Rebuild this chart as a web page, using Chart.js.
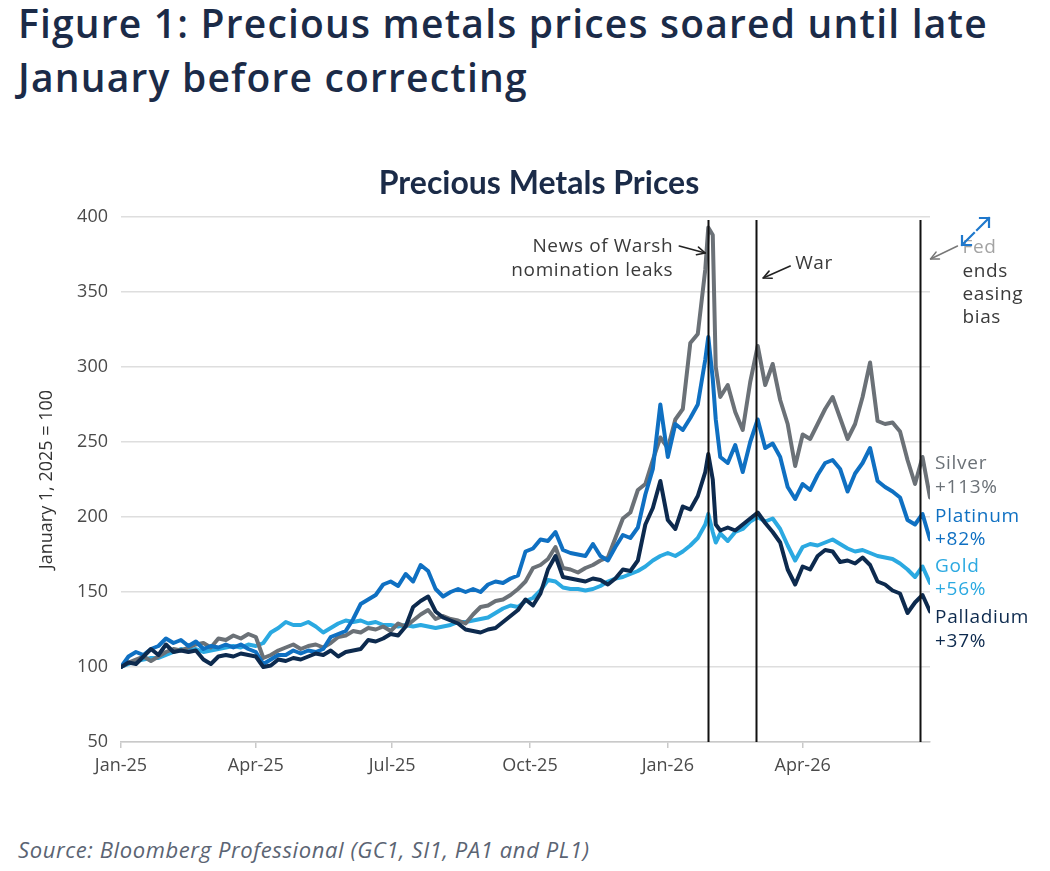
<!DOCTYPE html>
<html><head><meta charset="utf-8">
<script src="https://cdn.jsdelivr.net/npm/chart.js@4.4.1/dist/chart.umd.min.js"></script>
<style>
html,body{margin:0;padding:0;background:#fff;}
body{width:1050px;height:871px;position:relative;overflow:hidden;}
#title{position:absolute;left:18px;top:-4px;font:600 39px/54px 'Open Sans', sans-serif;letter-spacing:1.2px;color:#1b2b48;white-space:nowrap;}
#ctitle{position:absolute;left:0;width:1078px;top:162px;text-align:center;font:700 32px/40px Lato, sans-serif;color:#1b2b48;white-space:nowrap;}
#wrap{position:absolute;left:0;top:150px;width:1050px;height:650px;}
#source{position:absolute;left:18px;top:836px;font:italic 400 22px/26px 'Open Sans', sans-serif;letter-spacing:0.6px;color:#5b6473;white-space:nowrap;}
</style></head>
<body>
<div id="title">Figure 1: Precious metals prices soared until late<br>January before correcting</div>
<div id="wrap"><canvas id="c"></canvas></div>
<div id="ctitle">Precious Metals Prices</div>
<div id="source">Source: Bloomberg Professional (GC1, SI1, PA1 and PL1)</div>
<script>
// Days since 1 Jan 2025
const days = [0,5,10,15,20,25,30,35,40,45,
  50,55,60,65,70,75,80,85,90,95,
  100,105,110,115,120,125,130,135,140,145,
  150,155,160,165,170,175,180,185,190,195,
  200,205,210,215,220,225,230,235,240,245,
  250,255,260,265,270,275,280,285,290,295,
  300,305,310,315,320,325,330,335,340,345,
  350,355,360,365,370,375,380,385,390,392,
  395,397,400,405,410,415,420,425,430,435,
  440,445,450,455,460,465,470,475,480,485,
  490,495,500,505,510,515,520,525,530,535,
  540];

// Index, 1 Jan 2025 = 100
const silver = [100,103,105,107,104,107,110,112,111,113,
  115,116,113,119,118,121,119,122,120,106,
  108,111,113,115,112,114,115,113,116,120,
  121,124,123,126,125,127,124,129,127,131,
  135,138,132,134,132,131,129,135,140,141,
  144,145,148,152,157,166,168,172,180,166,
  165,163,166,168,171,173,186,199,203,218,
  222,238,253,246,265,272,316,322,365,393,
  388,300,280,288,270,258,290,314,288,302,
  278,262,234,255,252,262,272,280,266,252,
  262,280,303,264,262,263,257,238,222,240,
  213];

const platinum = [100,107,110,108,112,114,119,116,118,114,
  117,112,114,113,115,113,115,112,110,102,
  105,108,108,111,109,111,110,112,120,122,
  124,132,142,145,148,155,157,154,162,157,
  168,164,152,147,150,152,150,152,150,155,
  157,156,159,161,177,179,185,184,190,178,
  176,175,174,182,174,171,180,188,186,193,
  215,232,275,240,262,258,266,275,305,320,
  292,265,240,236,248,230,250,265,246,249,
  240,220,212,222,218,228,236,238,232,217,
  229,236,246,224,220,217,213,198,195,202,
  185];

const gold = [100,102,104,105,106,106,108,110,112,111,
  112,110,111,112,113,114,113,115,114,116,
  123,126,130,128,128,130,127,123,126,129,
  131,130,131,129,130,128,128,127,128,127,
  128,127,126,127,128,130,130,131,132,133,
  136,139,141,140,144,146,151,158,157,153,
  152,152,151,152,154,157,159,160,162,164,
  167,171,174,176,174,177,181,186,195,202,
  190,183,189,184,190,192,197,200,197,199,
  192,181,171,180,182,181,183,185,182,179,
  177,178,176,174,173,172,169,165,160,167,
  156];

const palladium = [100,103,102,107,112,108,115,110,111,110,
  111,105,102,107,108,107,109,108,107,100,
  101,105,104,106,105,107,109,108,111,107,
  110,111,112,118,117,119,122,121,127,140,
  144,147,137,133,131,129,125,124,123,125,
  126,130,134,138,145,141,149,165,174,160,
  159,158,157,159,158,155,159,165,164,171,
  195,206,224,198,192,207,205,214,230,242,
  225,195,191,193,191,195,199,203,196,190,
  183,165,155,167,165,174,178,177,170,171,
  169,173,168,157,155,151,149,136,143,148,
  137];

const tickDays = [0,90,181,273,365,455];
const tickLabels = ['Jan-25','Apr-25','Jul-25','Oct-25','Jan-26','Apr-26'];
const yTicks = [50,100,150,200,250,300,350,400];

const eventDays = [392, 424, 533];
const eventLabels = [['News of Warsh','nomination leaks'], ['War'], ['Fed','ends','easing','bias']];

const seriesNames = ['Silver','Platinum','Gold','Palladium'];
const changeLabels = ['+113%','+82%','+56%','+37%'];
const seriesColors = ['#6b7177','#0f70c2','#2ba9e1','#0d2a4e'];
const seriesData = [silver, platinum, gold, palladium];
const drawOrder = [2, 1, 3, 0];

const FONT = "'Open Sans', sans-serif";

function arrow(ctx, x1, y1, x2, y2, color, w) {
  const a = Math.atan2(y2 - y1, x2 - x1), h = 9, s = 0.45;
  ctx.save();
  ctx.strokeStyle = color; ctx.lineWidth = w; ctx.lineCap = 'round'; ctx.lineJoin = 'round';
  ctx.beginPath(); ctx.moveTo(x1, y1); ctx.lineTo(x2, y2); ctx.stroke();
  ctx.beginPath();
  ctx.moveTo(x2 - h * Math.cos(a - s), y2 - h * Math.sin(a - s));
  ctx.lineTo(x2, y2);
  ctx.lineTo(x2 - h * Math.cos(a + s), y2 - h * Math.sin(a + s));
  ctx.stroke();
  ctx.restore();
}

const annotate = {
  id: 'annotate',
  afterDatasetsDraw(chart) {
    const {ctx, scales: {x, y}} = chart;
    ctx.save();
    ctx.strokeStyle = '#111'; ctx.lineWidth = 2;
    eventDays.forEach(d => {
      const px = Math.round(x.getPixelForValue(d)) + 0.5;
      ctx.beginPath();
      ctx.moveTo(px, y.getPixelForValue(398));
      ctx.lineTo(px, y.getPixelForValue(50));
      ctx.stroke();
    });
    ctx.restore();
  },
  afterDraw(chart) {
    const {ctx, chartArea, scales: {x}} = chart;
    const T = 150; // canvas offset in page
    ctx.save();
    ctx.font = '400 19px ' + FONT;
    ctx.letterSpacing = '0.6px';
    ctx.fillStyle = '#3a3a3a';
    ctx.textBaseline = 'alphabetic';
    // Warsh
    let lx = x.getPixelForValue(eventDays[0]);
    ctx.textAlign = 'right';
    ctx.fillText(eventLabels[0][0], lx - 35, 252 - T);
    ctx.fillText(eventLabels[0][1], lx - 35, 276 - T);
    arrow(ctx, lx - 29, 246 - T, lx - 3, 253 - T, '#222', 1.6);
    // War
    lx = x.getPixelForValue(eventDays[1]);
    ctx.textAlign = 'left';
    ctx.fillText(eventLabels[1][0], lx + 39, 269 - T);
    arrow(ctx, lx + 34, 266 - T, lx + 7, 278 - T, '#222', 1.6);
    // Fed
    lx = x.getPixelForValue(eventDays[2]);
    const fedY = [253, 277, 300, 323];
    eventLabels[2].forEach((t, i) => {
      ctx.fillStyle = i === 0 ? '#a3a3a3' : '#3a3a3a';
      ctx.fillText(t, lx + 43, fedY[i] - T);
    });
    arrow(ctx, lx + 38, 246 - T, lx + 11, 259 - T, '#777', 1.4);
    // expand icon
    ctx.strokeStyle = '#1f78cc'; ctx.lineWidth = 2.2; ctx.lineCap = 'square';
    ctx.beginPath();
    ctx.moveTo(977, 230 - T); ctx.lineTo(989, 218 - T);
    ctx.moveTo(980, 218 - T); ctx.lineTo(989, 218 - T); ctx.lineTo(989, 227 - T);
    ctx.moveTo(974, 233 - T); ctx.lineTo(962, 245 - T);
    ctx.moveTo(962, 236 - T); ctx.lineTo(962, 245 - T); ctx.lineTo(971, 245 - T);
    ctx.stroke();
    // series end labels
    ctx.font = '500 19px ' + FONT;
    ctx.letterSpacing = '0.7px';
    ctx.textAlign = 'left';
    const lblY = [[469, 493], [522, 545], [572, 595], [623, 647]];
    seriesNames.forEach((n, i) => {
      ctx.fillStyle = seriesColors[i];
      ctx.fillText(n, chartArea.right + 5, lblY[i][0] - T);
      ctx.fillText(changeLabels[i], chartArea.right + 5, lblY[i][1] - T);
    });
    ctx.restore();
  }
};

const datasets = seriesNames.map((n, i) => ({
  label: n,
  data: days.map((d, k) => ({x: d, y: seriesData[i][k]})),
  borderColor: seriesColors[i],
  borderWidth: 4,
  pointRadius: 0,
  tension: 0,
  borderJoinStyle: 'round',
  borderCapStyle: 'round',
  order: drawOrder[i]
}));

new Chart(document.getElementById('c'), {
  type: 'line',
  data: {datasets},
  options: {
    responsive: true,
    maintainAspectRatio: false,
    animation: false,
    layout: {padding: {left: 0, right: 120, top: 67, bottom: 0}},
    plugins: {legend: {display: false}, tooltip: {enabled: false}, title: {display: false}},
    scales: {
      x: {
        type: 'linear', min: 0, max: 540,
        afterFit: s => { s.height = 58; },
        afterBuildTicks: s => { s.ticks = tickDays.map(v => ({value: v})); },
        ticks: {
          autoSkip: false, maxRotation: 0, padding: 7,
          color: '#4a4a4a', font: {family: FONT, size: 18},
          callback: v => tickLabels[tickDays.indexOf(v)]
        },
        grid: {drawOnChartArea: false, drawTicks: true, tickLength: 6, color: '#c9c9c9', lineWidth: 1.5},
        border: {display: true, color: '#c9c9c9', width: 1.5}
      },
      y: {
        min: 50, max: 400,
        afterFit: s => { s.width = 121; },
        afterBuildTicks: s => { s.ticks = yTicks.map(v => ({value: v})); },
        ticks: {padding: 13, color: '#4a4a4a', font: {family: FONT, size: 18}},
        grid: {drawTicks: false, color: '#dedede', lineWidth: 1.5},
        border: {display: false},
        title: {display: true, text: 'January 1, 2025 = 100', color: '#333', font: {family: FONT, size: 18}, padding: {top: 36}}
      }
    }
  },
  plugins: [annotate]
});
</script>
</body></html>
